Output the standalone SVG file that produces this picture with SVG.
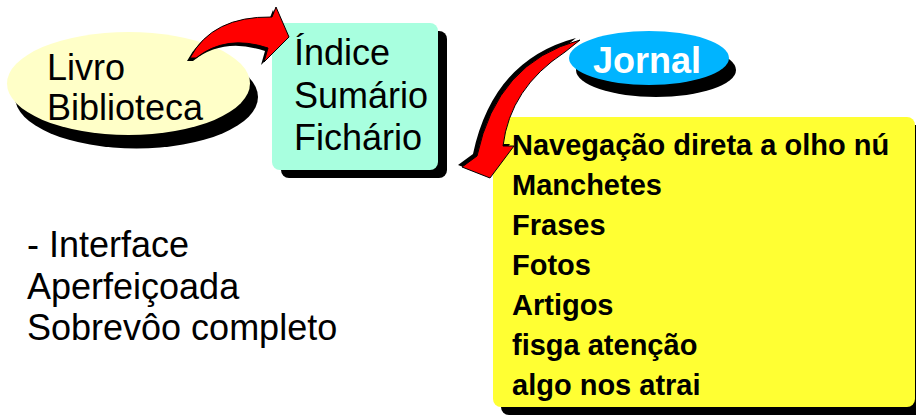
<svg xmlns="http://www.w3.org/2000/svg" width="916" height="417" viewBox="0 0 916 417">
<style>
.t{font-family:"Liberation Sans",Arial,sans-serif;font-size:36px;fill:#000}
.b{font-family:"Liberation Sans",Arial,sans-serif;font-size:29px;font-weight:bold;fill:#000}
.sh{fill:#000}
.arrow{fill:#FF0000;stroke:#000;stroke-width:1}
</style>
<rect width="916" height="417" fill="#fff"/>
<g id="livro">
<ellipse class="sh" cx="136.5" cy="97" rx="121.5" ry="51.5"/>
<ellipse cx="128.5" cy="83.5" rx="121.5" ry="51.5" fill="#FFFFC8"/>
<text class="t" x="47" y="80">Livro</text>
<text class="t" x="47" y="120">Biblioteca</text>
</g>
<g id="indice">
<rect class="sh" x="281" y="31" width="166" height="147" rx="8"/>
<rect x="272" y="23" width="166" height="147" rx="8" fill="#A8FFDF"/>
<text class="t" x="294" y="65">Índice</text>
<text class="t" x="294" y="107.5">Sumário</text>
<text class="t" x="294" y="150">Fichário</text>
</g>
<g id="jornal">
<ellipse class="sh" cx="656" cy="70" rx="80" ry="27"/>
<ellipse cx="649" cy="58" rx="80" ry="27" fill="#00B4FF"/>
<text x="647" y="73" text-anchor="middle" font-family="Liberation Sans, Arial, sans-serif" font-size="36" font-weight="bold" fill="#fff">Jornal</text>
</g>
<g id="caracteristicas">
<rect class="sh" x="501" y="125" width="422" height="290" rx="8"/>
<rect x="493" y="117" width="422" height="290" rx="8" fill="#FFFF33"/>
<text class="b" x="512" y="155">Navegação direta a olho nú</text>
<text class="b" x="512" y="195">Manchetes</text>
<text class="b" x="512" y="235">Frases</text>
<text class="b" x="512" y="275">Fotos</text>
<text class="b" x="512" y="315">Artigos</text>
<text class="b" x="512" y="355">fisga atenção</text>
<text class="b" x="512" y="395">algo nos atrai</text>
</g>
<g id="interface">
<text class="t" x="27" y="257">- Interface</text>
<text class="t" x="27" y="298.5">Aperfeiçoada</text>
<text class="t" x="27" y="340">Sobrevôo completo</text>
</g>
<g id="connectors">
<path class="sh" transform="translate(-3,3)" d="M190,58 Q212,16 272,17 L276,7 L289,37 L264,62 L268,48 Q226,34 196,58 Z"/>
<path class="arrow" d="M190,58 Q212,16 272,17 L276,7 L289,37 L264,62 L268,48 Q226,34 196,58 Z"/>
<path class="sh" transform="translate(-4,-2)" d="M580,40 Q497,62 477,156 L462,167 L490,178 L514,146 L503,146 Q510,88 565,52 Z"/>
<path class="arrow" d="M580,40 Q497,62 477,156 L462,167 L490,178 L514,146 L503,146 Q510,88 565,52 Z"/>
</g>
</svg>
